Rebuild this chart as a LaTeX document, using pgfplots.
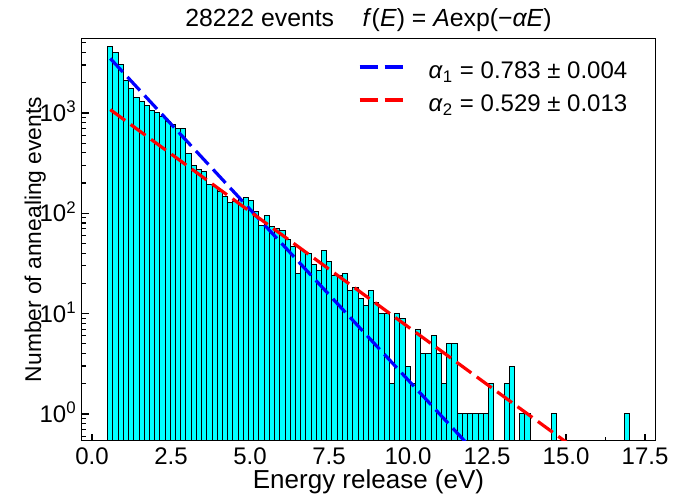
\documentclass[border=0pt]{standalone}
\usepackage{fontspec}
\setmainfont{Liberation Sans}
\usepackage{pgfplots}
\pgfplotsset{compat=1.18}

\definecolor{aqua}{RGB}{0,255,255}
\newcommand{\f}{\fontsize{12bp}{14.4bp}\selectfont}
\newcommand{\fy}{\fontsize{11.4bp}{13.7bp}\selectfont}
\newcommand{\fx}{\fontsize{13bp}{15.6bp}\selectfont}
\newcommand{\ft}{\fontsize{12.4bp}{14.9bp}\selectfont}

\begin{document}
\begin{tikzpicture}
\path[use as bounding box] (-40.85bp,-27.15bp) rectangle (301.15bp,220.35bp);
\begin{axis}[
  at={(0,0)}, anchor=south west,
  scale only axis, width=286.8bp, height=201.2bp,
  xmin=-0.325, xmax=17.825,
  ymode=log, ymin=0.541, ymax=5546,
  log origin y=infty,
  axis line style={line width=0.6bp},
  tick align=inside, xtick pos=bottom, ytick pos=left,
  major tick length=3.5bp, minor tick length=2bp,
  every tick/.style={black, line width=0.6bp},
  xtick={0,2.5,...,17.5},
  xticklabels={0.0,2.5,5.0,7.5,10.0,12.5,15.0,17.5},
  minor xtick={1.25,3.75,...,16.25},
  ytick={1,10,100,1000},
  yticklabels={10\textsuperscript{0},10\textsuperscript{1},10\textsuperscript{2},10\textsuperscript{3}},
  minor ytick={0.6,0.7,0.8,0.9,2,3,4,5,6,7,8,9,20,30,40,50,60,70,80,90,200,300,400,500,600,700,800,900,2000,3000,4000,5000},
  xticklabel style={font=\f, anchor=north, inner sep=0pt, yshift=-3.3bp},
  yticklabel style={font=\f, anchor=base east, inner sep=0pt, xshift=-2.35bp, yshift=-4.3bp},
  xlabel={Energy release (eV)},
  ylabel={Number of annealing events},
  xlabel style={font=\fx, at={(axis description cs:0.5,-0.119)}, anchor=base},
  ylabel style={font=\fy, at={(axis description cs:-0.07096,0.5)}, anchor=base},
  title={28222 events\hspace{1.15em}\textit{f}(\textit{E}) = \textit{A}exp(−\textit{αE})},
  title style={font=\ft, at={(0.5,1)}, anchor=base, yshift=0bp},
  legend style={font=\f, at={(1,1)}, anchor=north east, xshift=-14bp, yshift=-11.5bp,
    draw=none, fill=none, inner sep=0pt, outer sep=0pt, row sep=4.9bp, column sep=12bp,
    nodes={inner sep=0pt, text height=8.6bp, text depth=3bp}},
  legend cell align=left,
  legend image code/.code={\draw[#1] (0bp,3bp) -- (21.8bp,3bp);},
]
\addplot[ybar, bar width=0.165, bar shift=0pt, fill=aqua, draw=black, line width=0.5bp, forget plot] coordinates {
(0.5825,4640)(0.7475,3980)(0.9125,3040)(1.0775,2100)(1.2425,1740)(1.4075,1410)
(1.5725,1310)(1.7375,1180)(1.9025,1055)(2.0675,1000)(2.2325,925)(2.3975,813)
(2.5625,764)(2.7275,697)(2.8925,708)(3.0575,398)(3.2225,297)(3.3875,271)
(3.5525,261)(3.7175,192)(3.8825,185)(4.0475,165)(4.2125,147)(4.3775,128)
(4.5425,131)(4.7075,138)(4.8725,144)(5.0375,134)(5.2025,105)(5.3675,76)
(5.5325,95)(5.6975,73)(5.8625,71)(6.0275,68)(6.1925,55)(6.3575,47)
(6.5225,25)(6.6875,43)(6.8525,40)(7.0175,31)(7.1825,27)(7.3475,43)
(7.5125,33)(7.6775,24)(7.8425,24)(8.0075,25)(8.1725,17)(8.3375,18)
(8.5025,14)(8.6675,12)(8.8325,17)(8.9975,13)(9.1625,10)(9.3275,10)
(9.4925,2)(9.6575,10)(9.8225,9)(9.9875,3)(10.1525,2)(10.3175,7)
(10.4825,4)(10.6475,4)(10.8125,6)(10.9775,4)(11.1425,2)(11.3075,5)
(11.4725,5)(11.6375,1)(11.8025,1)(11.9675,1)(12.1325,1)(12.2975,1)
(12.4625,1)(12.6275,2)(13.1225,2)(13.2875,3)(13.6175,1)(13.7825,1)
(14.6075,1)(16.9175,1)
};
\addplot[blue, line width=1.6bp, dash pattern=on 9.2bp off 3.4bp] coordinates {(0.58,3490) (17,0.0091)};
\addlegendentry{\textit{α}\textsubscript{1} = 0.783 ± 0.004}
\addplot[red, line width=1.6bp, dash pattern=on 9.2bp off 3.4bp] coordinates {(0.58,1079) (17,0.1823)};
\addlegendentry{\textit{α}\textsubscript{2} = 0.529 ± 0.013}
\end{axis}
\end{tikzpicture}
\end{document}
